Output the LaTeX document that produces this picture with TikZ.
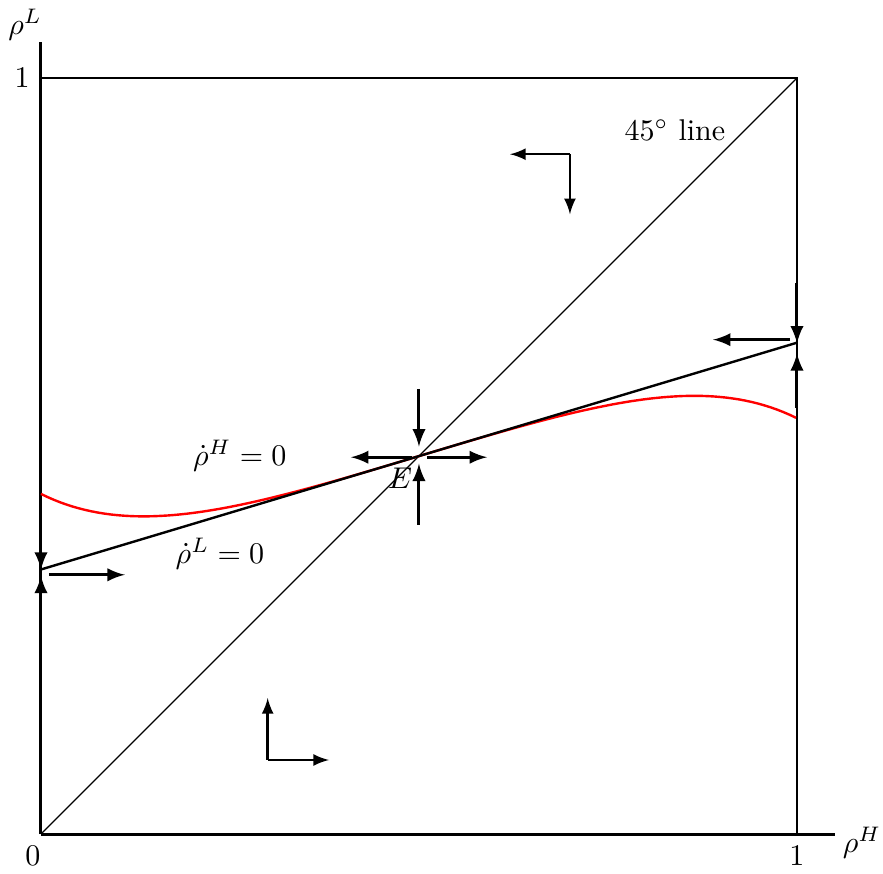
\documentclass[tikz,border=0pt]{standalone}
\usepackage{tikz}
\usepackage{amsmath,amssymb}
\usetikzlibrary{arrows}

\begin{document}
\begin{tikzpicture}[x=8.85cm,y=8.85cm,>=latex,
    flow/.style={->,line width=1pt},
    drift/.style={->,thick}]
    \useasboundingbox (-0.0542,-0.0517) rectangle (1.1138,1.1033);

    \draw [line width=1pt] (0,0) -- (1.05,0);
    \draw [line width=1pt] (0,0) -- (0,1.048);
    \draw [thick] (0,1) -- (1,1) -- (1,0);
    \draw [thin] (0,0) -- (1,1);

    \node at (-0.0106,-0.029) {$0$};
    \node at (1,-0.029) {$1$};
    \node at (-0.025,1) {$1$};
    \node at (-0.021,1.071) {$\rho^L$};
    \node at (1.086,-0.012) {$\rho^H$};
    \node at (0.8386,0.931) {$45^\circ$ line};

    \node at (0.263,0.5007) {$\dot{\rho}^H=0$};
    \node at (0.2368,0.3709) {$\dot{\rho}^L=0$};

    \draw [red,thick,domain=0:1,samples=120] plot (\x,{0.5+0.3*(\x-0.5)-0.4*(\x-0.5)^3-1.6*(\x-0.5)^5});
    \draw [thick] (0,0.35) -- (1,0.65);

    \coordinate (E) at (0.5,0.5);
    \node at (0.4749,0.4702) {$E$};

    % arrows round E
    \draw [flow] (0.5,0.589) -- (0.5,0.5126);
    \draw [flow] (0.5,0.409) -- (0.5,0.490);
    \draw [flow] (0.4907,0.4985) -- (0.410,0.4985);
    \draw [flow] (0.5106,0.4985) -- (0.590,0.4985);

    % arrows on the left edge
    \draw [flow] (0,0.429) -- (0,0.3497);
    \draw [flow] (0,0.262) -- (0,0.3417);
    \draw [flow] (0.0106,0.343) -- (0.111,0.343);

    % arrows on the right edge
    \draw [flow] (1,0.7285) -- (1,0.649);
    \draw [flow] (1,0.564) -- (1,0.636);
    \draw [flow] (0.9907,0.654) -- (0.889,0.654);

    % directions of motion
    \draw [drift] (0.6997,0.8993) -- (0.6204,0.8993);
    \draw [drift] (0.6997,0.8993) -- (0.6997,0.8199);
    \draw [drift] (0.2999,0.098) -- (0.2999,0.180);
    \draw [drift] (0.2999,0.098) -- (0.381,0.098);
\end{tikzpicture}
\end{document}
